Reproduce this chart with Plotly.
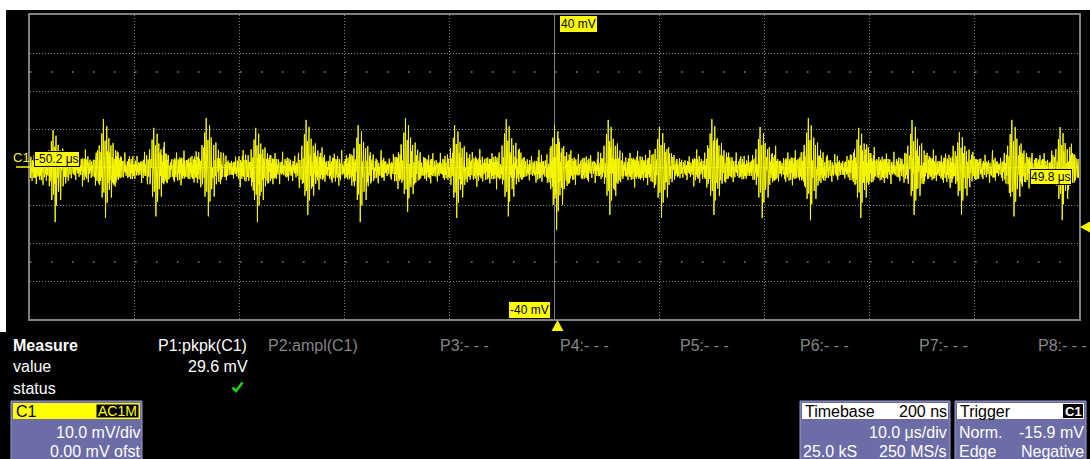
import numpy as np
import plotly.graph_objects as go

# ---------------- data read from the screen ----------------
# burst centre times (us) and their extreme values (mV)
burst_times_us = [-47.6, -42.8, -38.0, -33.0, -28.3, -23.5, -18.5, -14.0, -9.3, -4.4, 0.2,
                  5.3, 10.2, 15.2, 19.8, 24.4, 29.2, 34.3, 38.8, 43.8, 48.4]
burst_peak_pos_mV = [9.7, 12.6, 10.3, 12.9, 10.3, 12.4, 11.0, 12.9, 11.0, 12.6, 11.0,
                     12.4, 10.5, 12.6, 10.5, 12.9, 10.3, 12.4, 9.2, 12.4, 10.5]
burst_peak_neg_mV = [-14.5, -13.4, -13.0, -13.0, -14.5, -12.6, -14.5, -11.8, -13.4, -13.0, -16.6,
                     -12.6, -13.4, -12.6, -13.4, -14.0, -13.4, -12.6, -12.6, -13.0, -14.0]

# shape of one burst: spike offsets (us) and fraction of the burst extremes
spike_offsets_us = [-0.9, -0.6, -0.35, -0.2, -0.05, 0.1, 0.3, 0.5, 0.7, 0.95, 1.2, 1.5]
spike_pos_frac = [0.3, 0.45, 0.7, 1.0, 0.55, 0.85, 0.6, 0.45, 0.5, 0.35, 0.3, 0.2]
spike_neg_frac = [0.25, 0.35, 0.6, 0.5, 1.0, 0.7, 0.45, 0.6, 0.35, 0.3, 0.25, 0.2]

# widening of the noise band around a burst
env_offsets_us = [-1.5, -1.0, -0.5, 0.0, 0.6, 1.2, 1.8]
env_gain = [1.0, 1.15, 1.4, 1.6, 1.4, 1.15, 1.0]

# baseline noise patterns (mV), typed by hand
noise_a = [1.8, -2.1, 2.4, -1.5, 0.9, -2.6, 2.0, -0.7, 1.3, -2.2, 2.7, -1.9, 0.6, -2.4, 1.6, -3.4,
           2.2, -1.1, 1.9, -2.0, 3.6, -1.6, 0.8, -2.7, 2.1, -1.3, 1.4, -2.3, 2.5, -0.9, 1.7, -4.3,
           2.0, -1.8, 1.1, -2.5, 2.3, -1.4, 4.4, -2.0, 1.5, -2.2, 0.7, -1.7, 2.6, -2.9, 1.2]
noise_b = [0.3, -0.5, 0.6, -0.2, 0.4, -0.7, 0.1, -0.4, 0.5, -0.3, 0.8, -0.6, 0.2, -0.1, 0.5, -0.8,
           0.3, -0.4, 0.6, -0.2, 0.7, -0.5, 0.1, -0.3, 0.4, -0.6, 0.2, -0.7, 0.5, -0.1, 0.3]
baseline_mV = -0.3

time_range_us = [-50, 50]
volt_range_mV = [-40, 40]
sample_step_us = 0.04

measure_labels = ["P1:pkpk(C1)", "P2:ampl(C1)", "P3:- - -", "P4:- - -", "P5:- - -", "P6:- - -", "P7:- - -", "P8:- - -"]
measure_value = "29.6 mV"

# ---------------- build the trace ----------------
t = np.round(np.arange(time_range_us[0], time_range_us[1] + 1e-9, sample_step_us), 4)
n = len(t)
na = np.array(noise_a)
nb = np.array(noise_b)
noise = na[np.arange(n) % len(na)] + nb[np.arange(n) % len(nb)]
gain = np.ones(n)
for bt in burst_times_us:
    g = np.interp(t - bt, env_offsets_us, env_gain, left=1.0, right=1.0)
    gain = np.maximum(gain, g)
v = baseline_mV + noise * gain
for bt, pp, pn in zip(burst_times_us, burst_peak_pos_mV, burst_peak_neg_mV):
    for off, fp, fn in zip(spike_offsets_us, spike_pos_frac, spike_neg_frac):
        i = int(round((bt + off - time_range_us[0]) / sample_step_us))
        if 0 <= i < n:
            v[i] = pp * fp
        if 0 <= i + 1 < n:
            v[i + 1] = pn * fn

# ---------------- figure ----------------
W, H = 1090, 459
def X(p):
    return p / W
def Y(p):
    return 1 - p / H

YEL = "#F8F800"
GRID = "#808080"
PANEL = "#6C6CA6"
FONT = "Liberation Sans, Arial, sans-serif"

fig = go.Figure()
fig.add_trace(go.Scatter(x=t, y=v, mode="lines", line=dict(color=YEL, width=1),
                         hoverinfo="skip"))

axis_common = dict(showgrid=True, gridcolor=GRID, griddash="1px,2px", gridwidth=1,
                   zeroline=True, zerolinecolor=GRID, zerolinewidth=1,
                   showline=True, linecolor=GRID, linewidth=1.5, mirror=True,
                   showticklabels=False, ticks="", fixedrange=True)
fig.update_layout(
    width=W, height=H, margin=dict(l=0, r=0, t=0, b=0),
    paper_bgcolor="black", plot_bgcolor="black", showlegend=False,
    xaxis=dict(range=time_range_us, dtick=10, domain=[X(30), X(1079)], **axis_common),
    yaxis=dict(range=volt_range_mV, dtick=10, domain=[Y(319), Y(15)], **axis_common),
)

shapes = []
# dotted rows at +/- 2.5 div
for yv in (25, -25):
    shapes.append(dict(type="line", xref="x", yref="y", x0=-50, x1=50, y0=yv, y1=yv,
                       line=dict(color=GRID, width=1.5, dash="1.5px,19.5px"), layer="below"))
# white borders of the screenshot
shapes.append(dict(type="rect", xref="paper", yref="paper", x0=0, x1=1, y0=Y(10), y1=1.01,
                   fillcolor="white", line=dict(width=0)))
shapes.append(dict(type="rect", xref="paper", yref="paper", x0=-0.01, x1=X(6), y0=Y(332), y1=1.01,
                   fillcolor="white", line=dict(width=0)))
# C1 ground marker line
shapes.append(dict(type="line", xref="paper", yref="paper", x0=X(16), x1=X(30), y0=Y(167), y1=Y(167),
                   line=dict(color=YEL, width=1.5)))
# triangles
def tri(pts, color=YEL):
    d = "M " + " L ".join(f"{X(a)},{Y(b)}" for a, b in pts) + " Z"
    return dict(type="path", xref="paper", yref="paper", path=d, fillcolor=color, line=dict(width=0))
shapes.append(tri([(551.5, 331), (563.5, 331), (557.5, 320)]))
shapes.append(tri([(1080, 227), (1090, 221.5), (1090, 232.5)]))
# green check
shapes.append(dict(type="path", xref="paper", yref="paper",
                   path=f"M {X(232.5)},{Y(387.5)} L {X(236)},{Y(391)} L {X(242.5)},{Y(382.5)}",
                   line=dict(color="#1FD11F", width=2.5)))
# panels
def rect(x0, y0, x1, y1, fill, line_color=None, lw=0):
    return dict(type="rect", xref="paper", yref="paper", x0=X(x0), x1=X(x1), y0=Y(y1), y1=Y(y0),
                fillcolor=fill, line=dict(color=line_color or fill, width=lw))
shapes.append(rect(11, 401, 142, 470, PANEL, "#9C9CCC", 1))
shapes.append(rect(13, 403, 140, 419, "#FFFF00"))
shapes.append(rect(96, 404, 139, 418, "black", "#FFFF00", 1))
shapes.append(rect(800, 401, 950, 470, PANEL, "#9C9CCC", 1))
shapes.append(rect(802, 403, 948, 419, "white"))
shapes.append(rect(955, 401, 1086, 470, PANEL, "#9C9CCC", 1))
shapes.append(rect(957, 403, 1084, 419, "white"))
shapes.append(rect(1063, 404, 1083, 418, "black"))
fig.update_layout(shapes=shapes)

anns = []
def txt(s, x, y, xanchor="left", size=16, color="white", bold=False, bg=None, border=None, pad=0):
    a = dict(text=f"<b>{s}</b>" if bold else s, x=X(x), y=Y(y), xref="paper", yref="paper",
             xanchor=xanchor, yanchor="middle", showarrow=False,
             font=dict(family=FONT, size=size, color=color), borderpad=pad)
    if bg:
        a["bgcolor"] = bg
    if border:
        a["bordercolor"] = border
        a["borderwidth"] = 1
    anns.append(a)

txt("40 mV", 560, 24, size=12, color="black", bg="#FFFF00", border="#FFFF00")
txt("-40 mV", 550, 310, xanchor="right", size=12, color="black", bg="#FFFF00", border="#FFFF00")
txt("-50.2 μs", 34, 158.5, size=12, color="black", bg="#FFFF00", border="black")
txt("49.8 μs", 1030, 176.5, size=12, color="black", bg="#FFFF00", border="black")
txt("C1", 12, 157, size=13, color=YEL)

txt("Measure", 12, 345, bold=True)
txt("value", 12, 366)
txt("status", 12, 388)
m_x = [157, 267, 439, 559, 679, 799, 918, 1037]
for i, (lab, mx) in enumerate(zip(measure_labels, m_x)):
    txt(lab, mx, 345, color="white" if i == 0 else "#858585")
txt(measure_value, 249, 366, xanchor="right")

txt("C1", 15, 411, color="black")
txt("AC1M", 117.5, 411, xanchor="center", size=14, color="#FFFF00")
txt("10.0 mV/div", 141, 432, xanchor="right")
txt("0.00 mV ofst", 141, 451, xanchor="right")

txt("Timebase", 804, 411, color="black")
txt("200 ns", 948, 411, xanchor="right", color="black")
txt("10.0 μs/div", 948, 432, xanchor="right")
txt("25.0 kS", 802, 451)
txt("250 MS/s", 948, 451, xanchor="right")

txt("Trigger", 959, 411, color="black")
txt("C1", 1073, 411, xanchor="center", size=13, color="white", bold=True)
txt("Norm.", 958, 432)
txt("-15.9 mV", 1085, 432, xanchor="right")
txt("Edge", 958, 451)
txt("Negative", 1085, 451, xanchor="right")
fig.update_layout(annotations=anns)

fig.write_html("out.html", config={"displayModeBar": False},
               post_script="document.body.style.margin='0';document.body.style.overflow='hidden';")
